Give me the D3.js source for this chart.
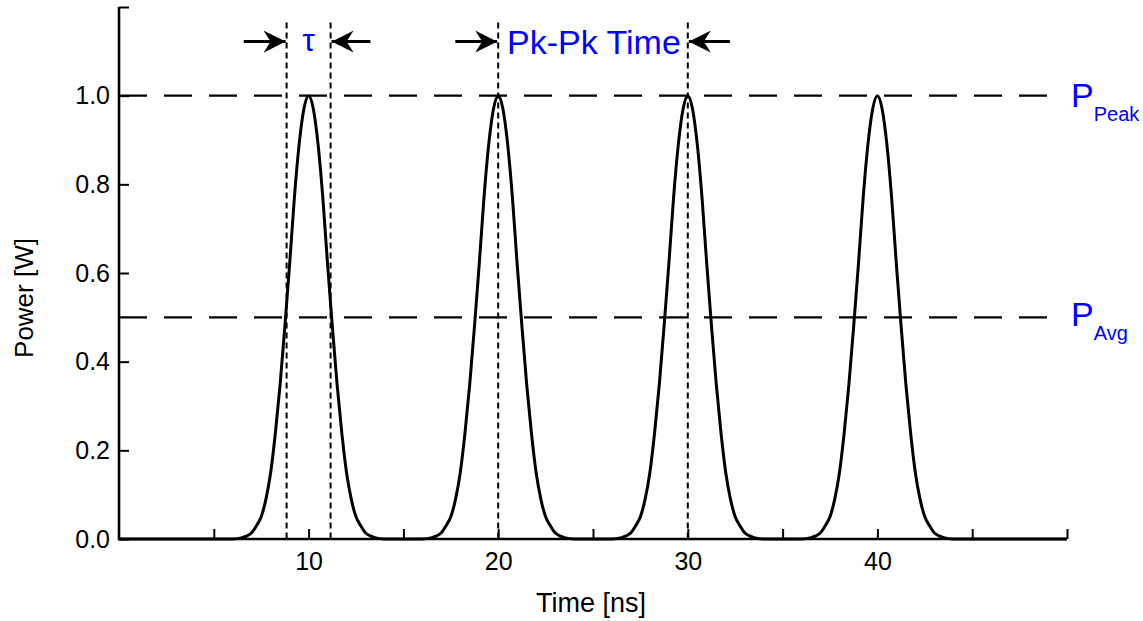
<!DOCTYPE html>
<html>
<head>
<meta charset="utf-8">
<script src="https://cdn.jsdelivr.net/npm/d3@7"></script>
<style>
  body { margin: 0; background: #fff; }
  svg { display: block; font-family: "Liberation Sans", Arial, sans-serif; }
</style>
</head>
<body>
<svg id="chart" width="1143" height="621"></svg>
<script>
// ---- data ----
const pulseCenters = [10, 20, 30, 40];                 // ns
const pulseOffsets = [-4.0, -3.5, -3.25, -3.0, -2.75, -2.5, -2.25, -2.0, -1.75, -1.5, -1.25, -1.0, -0.75, -0.5, -0.25, 0,
                      0.25, 0.5, 0.75, 1.0, 1.25, 1.5, 1.75, 2.0, 2.25, 2.5, 2.75, 3.0, 3.25, 3.5, 4.0];
const pulsePower   = [0.000, 0.003, 0.007, 0.014, 0.03, 0.05, 0.09, 0.15, 0.24, 0.35, 0.48, 0.62, 0.77, 0.89, 0.97, 1.00,
                      0.97, 0.89, 0.77, 0.62, 0.48, 0.35, 0.24, 0.15, 0.09, 0.05, 0.03, 0.014, 0.007, 0.003, 0.000];
const timeDomain = [0, 50];
const powerDomain = [0, 1.2];
const xTickValues = [5, 10, 15, 20, 25, 30, 35, 40, 45, 50];
const xTickLabels = [10, 20, 30, 40];
const yTickValues = [0, 0.2, 0.4, 0.6, 0.8, 1.0, 1.2];
const yTickLabels = [0, 0.2, 0.4, 0.6, 0.8, 1.0];
const levelValues = [1.0, 0.5];
const levelMain = ["P", "P"];
const levelSub = ["Peak", "Avg"];
const markerTimes = [8.84, 11.16, 20, 30];
const markerTop = 1.165;
const arrowY = 1.122;
const arrowTails = [6.58, 13.26, 17.74, 32.22];
const arrowTips  = [8.84, 11.16, 20, 30];
const annotationText = ["τ", "Pk-Pk Time"];
const annotationX = [10.0, 25.05];

// ---- layout ----
const svg = d3.select("#chart");
const x = d3.scaleLinear().domain(timeDomain).range([119, 1067]);
const y = d3.scaleLinear().domain(powerDomain).range([539, 7]);
const blue = "#0000ff";

// dashed reference levels
svg.selectAll("line.level").data(levelValues).enter().append("line")
  .attr("class", "level")
  .attr("x1", x(0)).attr("x2", 1057)
  .attr("y1", d => y(d)).attr("y2", d => y(d))
  .attr("stroke", "#000").attr("stroke-width", 2.4)
  .attr("stroke-dasharray", "28,17");

// dotted marker verticals
svg.selectAll("line.marker").data(markerTimes).enter().append("line")
  .attr("class", "marker")
  .attr("x1", d => x(d)).attr("x2", d => x(d))
  .attr("y1", y(markerTop)).attr("y2", y(0))
  .attr("stroke", "#000").attr("stroke-width", 2)
  .attr("stroke-dasharray", "6,4");

// pulse train series
const series = [{t: timeDomain[0], p: 0}];
pulseCenters.forEach(c => {
  pulseOffsets.forEach((o, i) => series.push({t: c + o, p: pulsePower[i]}));
});
series.push({t: timeDomain[1], p: 0});

const line = d3.line().x(d => x(d.t)).y(d => y(d.p)).curve(d3.curveMonotoneX);
svg.append("path").datum(series)
  .attr("d", line)
  .attr("fill", "none").attr("stroke", "#000").attr("stroke-width", 3)
  .attr("stroke-linejoin", "round");

// axes
const xAxis = d3.axisBottom(x).tickValues(xTickValues).tickSizeInner(-10).tickSizeOuter(0)
  .tickFormat(d => xTickLabels.includes(d) ? d3.format("d")(d) : "");
const gx = svg.append("g").attr("transform", `translate(0,${y(0)})`).call(xAxis);
gx.select(".domain").attr("stroke-width", 2.6).attr("d", `M${x(0)},0H${x(50)}`);
gx.selectAll(".tick line").attr("stroke-width", 2);
gx.selectAll(".tick text").attr("font-size", 25).attr("fill", "#000").attr("dy", "1.12em");

const yAxis = d3.axisLeft(y).tickValues(yTickValues).tickSizeInner(-10).tickSizeOuter(0)
  .tickFormat(d => yTickLabels.includes(d) ? d3.format(".1f")(d) : "");
const gy = svg.append("g").attr("transform", `translate(${x(0)},0)`).call(yAxis);
gy.select(".domain").attr("stroke-width", 2.6).attr("d", `M0,${y(0)+1.3}V${y(1.2)}`);
gy.selectAll(".tick line").attr("stroke-width", 2);
gy.selectAll(".tick text").attr("font-size", 25).attr("fill", "#000").attr("x", -9);

// axis titles
svg.append("text").attr("x", (x(0) + x(50)) / 2 - 2).attr("y", 612)
  .attr("text-anchor", "middle").attr("font-size", 27).text("Time [ns]");
svg.append("text").attr("transform", `translate(33,298) rotate(-90)`)
  .attr("text-anchor", "middle").attr("font-size", 26).text("Power [W]");

// arrows
const defs = svg.append("defs");
defs.append("marker").attr("id", "ah")
  .attr("viewBox", "0 0 22 22").attr("refX", 22).attr("refY", 11)
  .attr("markerWidth", 22).attr("markerHeight", 22).attr("markerUnits", "userSpaceOnUse")
  .attr("orient", "auto")
  .append("path").attr("d", "M0,0 L22,11 L0,22 L7,11 Z").attr("fill", "#000");
svg.selectAll("line.arrow").data(arrowTails).enter().append("line")
  .attr("class", "arrow")
  .attr("x1", d => x(d)).attr("x2", (d, i) => x(arrowTips[i]) - Math.sign(arrowTips[i] - d) * 1)
  .attr("y1", y(arrowY)).attr("y2", y(arrowY))
  .attr("stroke", "#000").attr("stroke-width", 3)
  .attr("marker-end", "url(#ah)");

// annotation text
svg.append("text").attr("x", x(annotationX[0])).attr("y", y(arrowY) + 9)
  .attr("text-anchor", "middle").attr("font-size", 32).attr("fill", blue)
  .text(annotationText[0]);
svg.append("text").attr("x", x(annotationX[1])).attr("y", y(arrowY) + 12)
  .attr("text-anchor", "middle").attr("font-size", 34).attr("fill", blue)
  .text(annotationText[1]);

// level labels
levelValues.forEach((v, i) => {
  const t = svg.append("text").attr("x", 1071).attr("y", y(v) + 11 - i * 2).attr("fill", blue);
  t.append("tspan").attr("font-size", 34).text(levelMain[i]);
  t.append("tspan").attr("font-size", 20).attr("dy", 14).text(levelSub[i]);
});
</script>
</body>
</html>
